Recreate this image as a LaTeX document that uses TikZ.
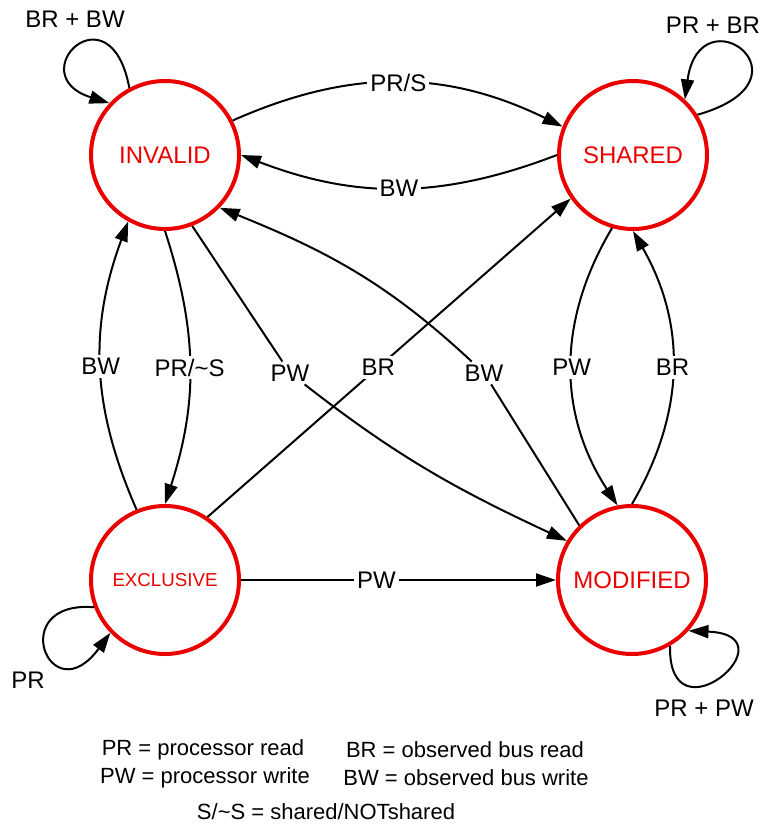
\documentclass[tikz,border=0pt]{standalone}
\usepackage{fontspec}
\setmainfont{Liberation Sans}
\usetikzlibrary{arrows.meta}
\definecolor{statered}{RGB}{235,0,0}

\begin{document}
\begin{tikzpicture}[x=1pt, y=1pt, >={Triangle[length=20pt,width=13pt]},
    state/.style={circle, draw=statered, line width=4pt, minimum size=148pt, inner sep=0pt, text=statered, font=\fontsize{24}{28}\selectfont},
    lbl/.style={fill=white, inner sep=3pt, font=\fontsize{24}{28}\selectfont},
    key/.style={font=\fontsize{22}{26}\selectfont},
    edge/.style={->, line width=2pt}]
        \useasboundingbox (0,0) rectangle (767,-837);

        \node[state] (inv) at (165,-155) {INVALID};
        \node[state] (shr) at (633,-155) {SHARED};
        \node[state, font=\fontsize{18.7}{22}\selectfont] (exc) at (165,-580) {EXCLUSIVE};
        \node[state] (mod) at (632,-580) {MODIFIED};

        % self loops
        \draw[edge] (inv.118) .. controls (110,15) and (20,-75) .. (inv.137);
        \draw[edge] (shr.32) .. controls (820,-80) and (700,10) .. (shr.47);
        \draw[edge] (exc.201) .. controls (5,-600) and (50,-715) .. (exc.224);
        \draw[edge] (mod.-60) .. controls (668,-745) and (795,-635) .. (mod.-42);
        \node[lbl, fill=none] (invloop) at (75,-19) {BR + BW};
        \node[lbl, fill=none] (shrloop) at (713,-25) {PR + BR};
        \node[lbl, fill=none] (excloop) at (28,-680) {PR};
        \node[lbl, fill=none] (modloop) at (704,-708) {PR + PW};

        % transitions
        \draw[edge] (inv.27) to[bend left=25] node[lbl]{PR/S} (shr.158);
        \draw[edge] (shr.180) to[bend left=21] node[lbl]{BW} (inv.0);
        \draw[edge] (exc.112) to[bend left=22] node[lbl]{BW} (inv.241);
        \draw[edge] (inv.270) to[bend left=18] node[lbl]{PR/\textasciitilde S} (exc.90);
        \draw[edge] (shr.254) to[bend right=32] node[lbl]{PW} (mod.101);
        \draw[edge] (mod.90) to[bend right=30] node[lbl]{BR} (shr.270);
        \draw[edge] (exc.56) -- node[lbl, pos=0.47]{BR} (shr.215);
        \draw[edge] (exc.0) -- node[lbl, pos=0.43]{PW} (mod.180);

        % diagonal transitions broken at their labels
        \node[lbl, fill=none] (pwdiag) at (290,-373) {PW};
        \node[lbl, fill=none] (bwdiag) at (484,-373) {BW};
        \draw[edge] (inv.291) -- (pwdiag) to[out=-38, in=155] (mod.149);
        \draw[edge] (mod.134) -- (bwdiag) to[out=137, in=-22] (inv.316);

        % legend
        \node[key] (pr) at (203,-750) {PR = processor read};
        \node[key] (br) at (465,-750) {BR = observed bus read};
        \node[key] (pw) at (205,-778) {PW = processor write};
        \node[key] (bw) at (466,-778) {BW = observed bus write};
        \node[key] (ss) at (326,-812) {S/\textasciitilde S = shared/NOTshared};
    \end{tikzpicture}
\end{document}
